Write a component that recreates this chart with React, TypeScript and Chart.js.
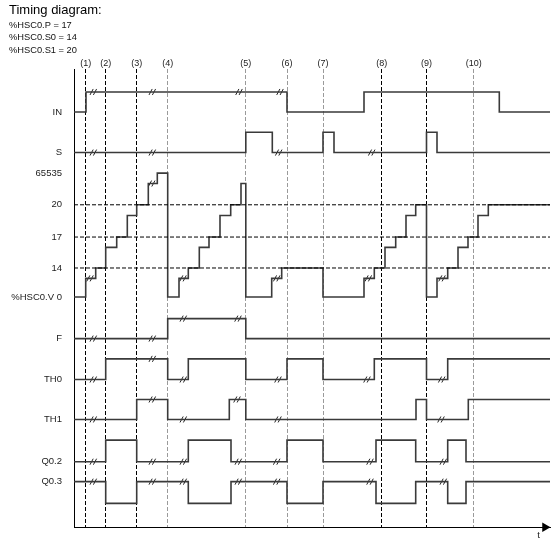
import React, { useEffect, useRef } from 'react';
import { Chart, registerables } from 'chart.js';

Chart.register(...registerables);

const FONT = "'Liberation Sans', Arial, Helvetica, sans-serif";

// ---------- header text ----------
const TITLE = 'Timing diagram:';
const PARAMS = ['%HSC0.P = 17', '%HSC0.S0 = 14', '%HSC0.S1 = 20'];

// ---------- time axis ----------
const T_END = 476;
const EVENT_LABELS = ['(1)', '(2)', '(3)', '(4)', '(5)', '(6)', '(7)', '(8)', '(9)', '(10)'];
const EVENT_T = [11.7, 31.7, 62.7, 93.7, 171.8, 213, 249, 307.7, 352.5, 399.7];
const EVENT_GRAY = [false, false, false, true, true, true, true, false, false, true];
const T_LABEL = 't';
const T_LABEL_POS = 464.5;

// ---------- signals (time of change, new level) ----------
const IN_T = [0, 12, 213, 290, 425.3, 476];
const IN_V = [0, 1, 0, 1, 0, 0];
const IN_BREAKS = [19.3, 78.3, 165, 206];

const S_T = [0, 171.8, 198.3, 249, 260, 352.5, 363, 476];
const S_V = [0, 1, 0, 1, 0, 1, 0, 0];
const S_BREAKS = [19.3, 78.3, 204.7, 297.7];

const CNT_T = [0, 11.7, 21.7, 31.7, 42.7, 53.3, 62.7, 74.3, 83.3, 93.7,
  105, 114.3, 125.3, 135, 146, 156.7, 167, 171.8,
  197.7, 207.7, 249,
  290, 300.3, 311, 321.7, 332, 341.7, 352.5,
  363, 373.7, 384, 394, 404, 414.3, 476];
const CNT_V = [0, 13, 14, 16, 17, 19, 20, 65534, 65535, 0,
  13, 14, 16, 17, 19, 20, 65534, 0,
  13, 14, 0,
  13, 14, 16, 17, 19, 20, 0,
  13, 14, 16, 17, 19, 20, 20];
const CNT_BREAK_T = [16, 77.7, 109, 202.7, 294.3, 368];
const CNT_BREAK_V = [13, 65534, 13, 13, 13, 13];
const CNT_THRESHOLDS = [14, 17, 20];
const CNT_TICKS = [65535, 20, 17, 14, 0];
const CNT_TICK_LABELS = ['65535', '20', '17', '14', '%HSC0.V 0'];

const F_T = [0, 93.7, 171.8, 476];
const F_V = [0, 1, 0, 0];
const F_BREAKS_LOW = [19.3, 78.3];
const F_BREAKS_HIGH = [109.3, 164];

const TH0_T = [0, 31.7, 93.7, 114.3, 171.8, 213, 249, 300.3, 352.5, 373.7, 476];
const TH0_V = [0, 1, 0, 1, 0, 1, 0, 1, 0, 1, 1];
const TH0_BREAKS_LOW = [19.3, 109.3, 204, 293, 367.7];
const TH0_BREAKS_HIGH = [78.3];

const TH1_T = [0, 62.7, 93.7, 155.3, 171.8, 342, 352.5, 394.3, 476];
const TH1_V = [0, 1, 0, 1, 0, 1, 0, 1, 1];
const TH1_BREAKS_LOW = [19.3, 109.3, 204, 367];
const TH1_BREAKS_HIGH = [78.3, 163];

const Q02_T = [0, 31.7, 62.7, 114.3, 157, 213, 249, 302, 341.7, 373.7, 392, 476];
const Q02_V = [0, 1, 0, 1, 0, 1, 0, 1, 0, 1, 0, 0];
const Q03_T = [0, 31.7, 62.7, 114.3, 157, 213, 249, 302, 341.7, 373.7, 392, 476];
const Q03_V = [0, -1, 0, -1, 0, -1, 0, -1, 0, -1, 0, 0];
const Q_BREAKS = [19.3, 78.3, 109.3, 164.3, 202.7, 296, 369.3];

// ---------- layout of the lanes (vertical) ----------
const Y_MAX = 459;
const LANES: Record<string, { base: number; amp: number }> = {
  IN: { base: 416, amp: 20 },
  S: { base: 375.3, amp: 20.4 },
  F: { base: 189, amp: 20 },
  TH0: { base: 148, amp: 20.7 },
  TH1: { base: 108, amp: 20 },
  Q02: { base: 65.7, amp: 21.6 },
  Q03: { base: 45.7, amp: 21.7 },
};
const CNT_BASE = 230.7;
const CNT_ANCHORS = [0, 14, 17, 20, 65535];
const CNT_ANCHOR_OFF = [0, 29, 60, 92.3, 124];
const CNT_STEP = 10.4;

function counterY(v: number): number {
  let off: number;
  if (v <= 0) off = 0;
  else if (v < 14) off = Math.max(0, CNT_ANCHOR_OFF[1] - (14 - v) * CNT_STEP);
  else if (v <= 20) {
    let i = 1;
    while (i < 3 && v > CNT_ANCHORS[i + 1]) i++;
    const a = CNT_ANCHORS[i], b = CNT_ANCHORS[i + 1];
    off = CNT_ANCHOR_OFF[i] + (v - a) / (b - a) * (CNT_ANCHOR_OFF[i + 1] - CNT_ANCHOR_OFF[i]);
  } else if (v < 65535) off = Math.max(CNT_ANCHOR_OFF[3], CNT_ANCHOR_OFF[4] - (65535 - v) * CNT_STEP);
  else off = CNT_ANCHOR_OFF[4];
  return CNT_BASE + off;
}

const laneY = (lane: string, v: number) => LANES[lane].base + v * LANES[lane].amp;

const SIG_COLOR = '#3a3a3a';
const SIG_WIDTH = 1.6;

function signal(T: number[], V: number[], yOf: (v: number) => number) {
  return {
    type: 'line' as const,
    data: T.map((t, i) => ({ x: t, y: yOf(V[i]) })),
    stepped: 'before' as const,
    borderColor: SIG_COLOR,
    borderWidth: SIG_WIDTH,
    pointRadius: 0,
    fill: false,
    tension: 0,
    clip: false as const,
    xAxisID: 'x',
    yAxisID: 'y',
  };
}

function breakPoints(ts: number[], y: (i: number) => number) {
  const pts: { x: number; y: number }[] = [];
  ts.forEach((t, i) => {
    pts.push({ x: t - 1.7, y: y(i) });
    pts.push({ x: t + 1.7, y: y(i) });
  });
  return pts;
}

export default function App() {
  const ref = useRef<HTMLCanvasElement>(null);

  useEffect(() => {
    document.body.style.margin = '0';
    document.body.style.overflow = 'hidden';
    const canvas = ref.current;
    if (!canvas) return;

    const yTicks = [
      { value: laneY('IN', 0), label: 'IN' },
      { value: laneY('S', 0), label: 'S' },
      ...CNT_TICKS.map((v, i) => ({ value: counterY(v), label: CNT_TICK_LABELS[i] })),
      { value: laneY('F', 0), label: 'F' },
      { value: laneY('TH0', 0), label: 'TH0' },
      { value: laneY('TH1', 0), label: 'TH1' },
      { value: laneY('Q02', 0), label: 'Q0.2' },
      { value: laneY('Q03', 0), label: 'Q0.3' },
    ];

    const breaks = [
      ...breakPoints(IN_BREAKS, () => laneY('IN', 1)),
      ...breakPoints(S_BREAKS, () => laneY('S', 0)),
      ...breakPoints(CNT_BREAK_T, (i) => counterY(CNT_BREAK_V[i])),
      ...breakPoints(F_BREAKS_LOW, () => laneY('F', 0)),
      ...breakPoints(F_BREAKS_HIGH, () => laneY('F', 1)),
      ...breakPoints(TH0_BREAKS_LOW, () => laneY('TH0', 0)),
      ...breakPoints(TH0_BREAKS_HIGH, () => laneY('TH0', 1)),
      ...breakPoints(TH1_BREAKS_LOW, () => laneY('TH1', 0)),
      ...breakPoints(TH1_BREAKS_HIGH, () => laneY('TH1', 1)),
      ...breakPoints(Q_BREAKS, () => laneY('Q02', 0)),
      ...breakPoints(Q_BREAKS, () => laneY('Q03', 0)),
    ];

    const thresholdSets = CNT_THRESHOLDS.map((v) => ({
      type: 'line' as const,
      data: [{ x: 0, y: counterY(v) }, { x: T_END, y: counterY(v) }],
      borderColor: '#000',
      borderWidth: 1,
      borderDash: [4, 2],
      pointRadius: 0,
      fill: false,
      clip: false as const,
      xAxisID: 'x',
      yAxisID: 'y',
    }));

    const chart = new Chart(canvas, {
      type: 'line',
      data: {
        datasets: [
          ...thresholdSets,
          signal(IN_T, IN_V, (v) => laneY('IN', v)),
          signal(S_T, S_V, (v) => laneY('S', v)),
          signal(CNT_T, CNT_V, counterY),
          signal(F_T, F_V, (v) => laneY('F', v)),
          signal(TH0_T, TH0_V, (v) => laneY('TH0', v)),
          signal(TH1_T, TH1_V, (v) => laneY('TH1', v)),
          signal(Q02_T, Q02_V, (v) => laneY('Q02', v)),
          signal(Q03_T, Q03_V, (v) => laneY('Q03', v)),
          {
            type: 'line' as const,
            data: breaks,
            showLine: false,
            pointStyle: 'line',
            pointRotation: -62,
            pointRadius: 3.4,
            pointBorderWidth: 1,
            pointBorderColor: '#222',
            clip: false as const,
            xAxisID: 'x',
            yAxisID: 'y',
          },
          {
            type: 'line' as const,
            data: [{ x: T_END - 5, y: 0 }],
            showLine: false,
            pointStyle: 'triangle',
            pointRotation: 90,
            pointRadius: 5.5,
            pointBorderWidth: 0,
            pointBackgroundColor: '#000',
            clip: false as const,
            xAxisID: 'xb',
            yAxisID: 'y',
          },
        ] as any,
      },
      options: {
        responsive: false,
        animation: false,
        devicePixelRatio: 1,
        events: [],
        layout: { padding: { left: 9, right: 7, top: 0, bottom: 0 } },
        font: { family: FONT },
        plugins: {
          legend: { display: false },
          tooltip: { enabled: false },
          title: {
            display: true,
            text: TITLE,
            align: 'start',
            color: '#000',
            font: { family: FONT, size: 13, weight: 'normal', lineHeight: '16px' },
            padding: { top: 2, bottom: 0 },
          },
          subtitle: {
            display: true,
            text: PARAMS,
            align: 'start',
            color: '#111',
            font: { family: FONT, size: 9.3, weight: 'normal', lineHeight: '12.5px' },
            padding: { top: 0.75, bottom: 0 },
          },
        },
        scales: {
          x: {
            type: 'linear',
            position: 'top',
            min: 0,
            max: T_END,
            afterFit: (s: any) => { s.height = 12.75; },
            afterBuildTicks: (s: any) => { s.ticks = EVENT_T.map((t) => ({ value: t })); },
            ticks: {
              autoSkip: false,
              maxRotation: 0,
              padding: 0,
              color: '#222',
              font: { family: FONT, size: 9 },
              callback: (_v: any, i: number) => EVENT_LABELS[i],
            },
            grid: {
              drawTicks: false,
              lineWidth: 1,
              color: (ctx: any) => (EVENT_GRAY[ctx.index] ? '#9a9a9a' : '#000'),
            },
            border: { display: false, dash: [4, 2] },
          },
          xb: {
            type: 'linear',
            position: 'bottom',
            min: 0,
            max: T_END,
            afterFit: (s: any) => { s.height = 17; },
            afterBuildTicks: (s: any) => { s.ticks = [{ value: T_LABEL_POS }]; },
            ticks: {
              autoSkip: false,
              maxRotation: 0,
              padding: 2,
              color: '#222',
              font: { family: FONT, size: 9.5 },
              callback: () => T_LABEL,
            },
            grid: { display: false, drawTicks: false },
            border: { display: true, color: '#000', width: 1 },
          },
          y: {
            type: 'linear',
            position: 'left',
            min: 0,
            max: Y_MAX,
            afterFit: (s: any) => { s.width = 65; },
            afterBuildTicks: (s: any) => { s.ticks = yTicks.map((t) => ({ value: t.value })); },
            ticks: {
              autoSkip: false,
              padding: 12,
              color: '#222',
              font: { family: FONT, size: 9.5 },
              callback: (_v: any, i: number) => yTicks[i].label,
            },
            grid: { display: false, drawTicks: false },
            border: { display: true, color: '#000', width: 1 },
          },
        },
      } as any,
    });

    return () => chart.destroy();
  }, []);

  return (
    <div style={{ width: 557, height: 545, background: '#fff' }}>
      <canvas ref={ref} width={557} height={545} style={{ display: 'block' }} />
    </div>
  );
}
